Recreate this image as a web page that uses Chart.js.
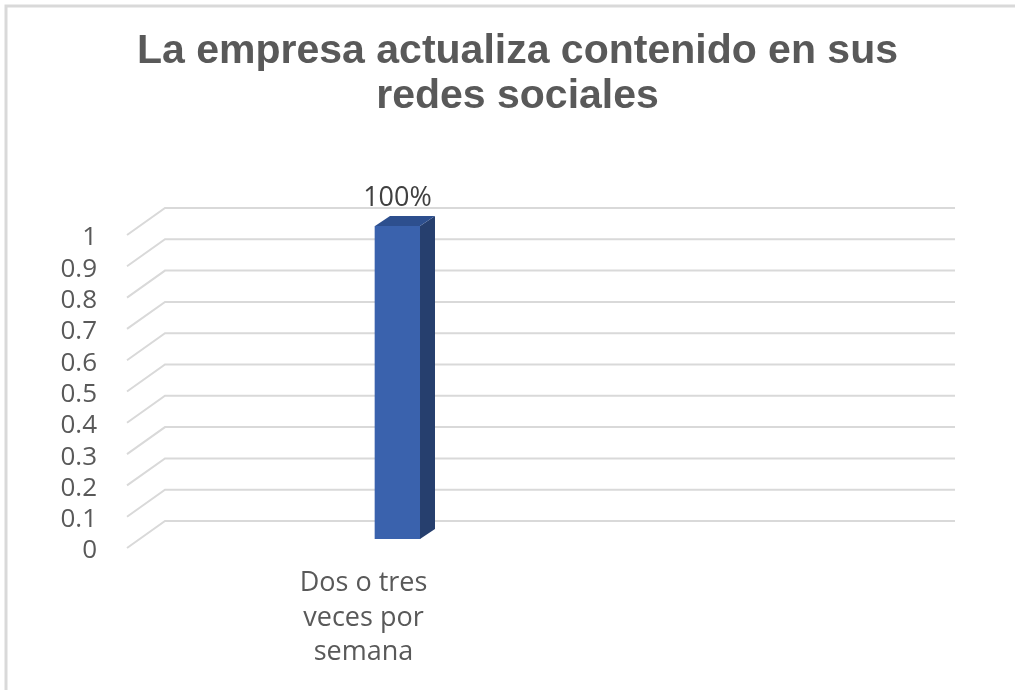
<!DOCTYPE html>
<html>
<head>
<meta charset="utf-8">
<script src="https://cdn.jsdelivr.net/npm/chart.js@4.4.1/dist/chart.umd.min.js"></script>
<style>
  html, body { margin: 0; padding: 0; background: #ffffff; }
  #c { display: block; }
</style>
</head>
<body>
<canvas id="c" width="1015" height="690"></canvas>
<script>
// Chart content
const titleLines = ['La empresa actualiza contenido en sus', 'redes sociales'];
const categories = [['Dos o tres', 'veces por', 'semana']];
const values = [1];
const yTickLabels = ['0', '0.1', '0.2', '0.3', '0.4', '0.5', '0.6', '0.7', '0.8', '0.9', '1'];

// Oblique projection of the back wall and of the column
const WALL_DEPTH = { dx: 38, dy: 27 };
const BAR_SHIFT = { dx: 13, dy: 9 };
const BAR_DEPTH = { dx: 15, dy: 10 };

const TEXT_GREY = '#595959';
const GRID_GREY = '#d9d9d9';

const wall3d = {
  id: 'wall3d',
  beforeDraw(chart) {
    // thin frame on the left and top edges
    const ctx = chart.ctx;
    ctx.save();
    ctx.strokeStyle = GRID_GREY;
    ctx.lineWidth = 3;
    ctx.beginPath();
    ctx.moveTo(6, chart.height);
    ctx.lineTo(6, 6);
    ctx.lineTo(chart.width, 6);
    ctx.stroke();
    ctx.restore();
  },
  beforeDatasetsDraw(chart) {
    // floor-to-wall diagonals plus back-wall gridlines
    const { ctx, chartArea, scales } = chart;
    const y = scales.y;
    const backRight = chart.width - 60;
    ctx.save();
    ctx.strokeStyle = GRID_GREY;
    ctx.lineWidth = 2;
    y.ticks.forEach(t => {
      const py = y.getPixelForValue(t.value);
      ctx.beginPath();
      ctx.moveTo(chartArea.left, py);
      ctx.lineTo(chartArea.left + WALL_DEPTH.dx, py - WALL_DEPTH.dy);
      ctx.lineTo(backRight, py - WALL_DEPTH.dy);
      ctx.stroke();
    });
    ctx.restore();
  },
  beforeDatasetDraw(chart) {
    chart.ctx.save();
    chart.ctx.translate(BAR_SHIFT.dx, -BAR_SHIFT.dy);
  },
  afterDatasetDraw(chart, args) {
    const ctx = chart.ctx;
    args.meta.data.forEach((bar, i) => {
      const { x, y, base, width } = bar.getProps(['x', 'y', 'base', 'width'], true);
      const l = x - width / 2;
      const r = x + width / 2;
      const dx = BAR_DEPTH.dx, dy = BAR_DEPTH.dy;
      // right side face
      ctx.fillStyle = '#263f6e';
      ctx.beginPath();
      ctx.moveTo(r, y);
      ctx.lineTo(r + dx, y - dy);
      ctx.lineTo(r + dx, base - dy);
      ctx.lineTo(r, base);
      ctx.closePath();
      ctx.fill();
      // top face
      ctx.fillStyle = '#2d4f8e';
      ctx.beginPath();
      ctx.moveTo(l, y);
      ctx.lineTo(l + dx, y - dy);
      ctx.lineTo(r + dx, y - dy);
      ctx.lineTo(r, y);
      ctx.closePath();
      ctx.fill();
      // value label
      ctx.fillStyle = '#404040';
      ctx.font = '27px "Open Sans"';
      ctx.textAlign = 'center';
      ctx.textBaseline = 'alphabetic';
      ctx.fillText(Math.round(values[i] * 100) + '%', x, y - 20);
    });
    ctx.restore();
  }
};

new Chart(document.getElementById('c'), {
  type: 'bar',
  data: {
    labels: categories,
    datasets: [{
      data: values,
      backgroundColor: '#3a62ad',
      borderWidth: 0,
      barThickness: 45
    }]
  },
  plugins: [wall3d],
  options: {
    responsive: false,
    animation: false,
    devicePixelRatio: 1,
    layout: { padding: { left: 20, top: 0, right: 0, bottom: 0 } },
    plugins: {
      legend: { display: false },
      tooltip: { enabled: false },
      title: {
        display: true,
        text: titleLines,
        color: TEXT_GREY,
        font: { family: '"Liberation Sans", Arial, sans-serif', size: 41, weight: 'bold', lineHeight: 1.1 },
        padding: { top: 29, bottom: 115.8 }
      }
    },
    scales: {
      x: {
        grid: { display: false, drawTicks: false },
        border: { display: false },
        ticks: {
          color: TEXT_GREY,
          font: { family: '"Open Sans", sans-serif', size: 27, lineHeight: 1.28 },
          padding: 18,
          labelOffset: -21,
          maxRotation: 0,
          autoSkip: false
        },
        afterFit(scale) { scale.height = 142; }
      },
      y: {
        min: 0,
        max: 1,
        grid: { display: false, drawTicks: false },
        border: { display: false },
        ticks: {
          stepSize: 0.1,
          autoSkip: false,
          color: TEXT_GREY,
          font: { family: '"Open Sans", sans-serif', size: 26 },
          padding: 30,
          labelOffset: 3,
          callback: (v, i) => yTickLabels[i]
        },
        afterFit(scale) { scale.width = 107; }
      },
      // empty right-hand band: the back wall extends across it
      side: {
        type: 'linear',
        position: 'right',
        display: true,
        grid: { display: false, drawTicks: false },
        border: { display: false },
        ticks: { display: false },
        afterFit(scale) { scale.width = 373; }
      }
    }
  }
});
</script>
</body>
</html>
